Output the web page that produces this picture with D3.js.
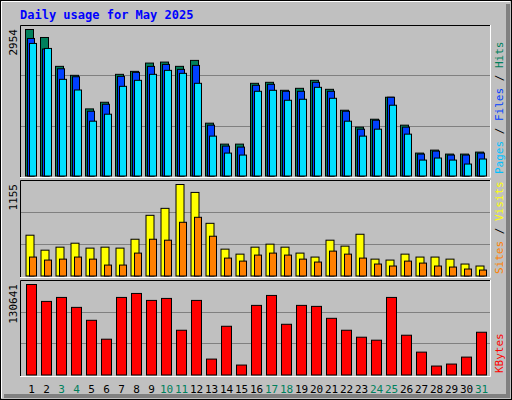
<!DOCTYPE html>
<html><head><meta charset="utf-8">
<script src="https://cdn.jsdelivr.net/npm/d3@7"></script>
<style>body{margin:0;background:#fff}</style>
</head><body>
<div id="chart"></div>
<script>
const days = d3.range(1, 32);
const weekend = [3, 4, 10, 11, 17, 18, 24, 25, 31];
const hits = [2954,2793,2211,2030,1353,1487,2050,2110,2277,2297,2211,2331,1065,643,643,1869,1889,1728,1768,1929,1748,1326,985,1145,1588,1025,462,522,442,442,482];
const files = [2773,2560,2162,2001,1306,1447,2009,2090,2210,2250,2150,2230,1025,603,583,1829,1849,1708,1708,1889,1708,1306,944,1125,1588,985,442,502,422,422,462];
const pages = [2673,2572,1949,1734,1105,1246,1808,1929,2050,2130,2070,1869,804,462,422,1708,1728,1527,1547,1788,1567,1105,804,944,1427,844,321,362,321,241,342];
const sites = [515,326,364,414,352,364,352,464,766,854,1155,1055,665,339,276,364,402,364,289,239,452,377,527,213,201,276,239,239,213,151,126];
const visits = [239,201,213,239,213,138,138,289,464,452,678,741,502,226,188,264,289,264,213,176,314,276,226,151,126,188,163,126,113,88,75];
const kbytes = [130641,106236,111978,97622,78959,51683,111978,117721,107671,110542,64603,107671,22970,70345,14356,100493,114849,73216,100493,99057,81830,64603,54554,50247,111978,57425,33019,12921,15792,25841,61731];

const W = 512, H = 400, mono = "'DejaVu Sans Mono', monospace";
const svg = d3.select('#chart').append('svg').attr('width', W).attr('height', H);

// outer frame
svg.append('rect').attr('x', 0).attr('y', 0).attr('width', W).attr('height', H).attr('fill', '#c0c0c0');
svg.append('rect').attr('x', 0.5).attr('y', 0.5).attr('width', W - 1).attr('height', H - 1).attr('fill', 'none').attr('stroke', '#000');
svg.append('path').attr('d', `M1.5,${H-2}V1.5H${W-2}`).attr('fill', 'none').attr('stroke', '#fff');
svg.append('path').attr('d', `M${W-4},4V${H-4}H4`).attr('fill', 'none').attr('stroke', '#808080').attr('stroke-width', 4);

svg.append('text').attr('x', 20).attr('y', 19).attr('fill', '#0000ff')
  .style('font', `bold 12px ${mono}`).text('Daily usage for May 2025');

const x = d3.scaleBand().domain(days).range([22, 487]);

function panel(top, bottom, maxVal, series, legend) {
  svg.append('rect').attr('x', 20).attr('y', top).attr('width', 470).attr('height', bottom - top + 1).attr('fill', '#c0c0c0');
  svg.append('path').attr('d', `M20.5,${bottom+1}V${top+0.5}H490`).attr('fill', 'none').attr('stroke', '#000');
  svg.append('path').attr('d', `M20,${bottom+1.5}H490.5V${top}`).attr('fill', 'none').attr('stroke', '#fff');
  const base = bottom - 0.5;
  const y = d3.scaleLinear().domain([0, maxVal]).range([base, top + 4]);
  const h = bottom - top;
  [1 / 3, 2 / 3].forEach(f => {
    const gy = Math.round(bottom - h * f) + 0.5;
    svg.append('line').attr('x1', 21).attr('x2', 490).attr('y1', gy).attr('y2', gy).attr('stroke', '#808080');
  });
  series.forEach(s => {
    svg.append('g').selectAll('rect').data(s.data).join('rect')
      .attr('x', (d, i) => x(days[i]) + s.off + 0.5)
      .attr('y', d => y(d) + 0.5)
      .attr('width', s.w)
      .attr('height', d => base - y(d))
      .attr('fill', s.color).attr('stroke', '#000');
  });
  svg.append('text').attr('transform', `translate(17,${top + 4}) rotate(-90)`).attr('text-anchor', 'end')
    .style('font', `11px ${mono}`).text(maxVal);
  const lt = svg.append('text').attr('transform', `translate(503,${bottom - 2}) rotate(-90)`)
    .style('font', `11px ${mono}`);
  legend.forEach(l => lt.append('tspan').attr('fill', l[1]).text(l[0]));
}

panel(25, 176, 2954, [
  { data: hits, color: '#00805c', off: 3, w: 8 },
  { data: files, color: '#0040ff', off: 5, w: 7 },
  { data: pages, color: '#00e0ff', off: 7, w: 7 }
], [['Pages', '#00c0ff'], [' / ', '#000'], ['Files', '#0040ff'], [' / ', '#000'], ['Hits', '#00805c']]);

panel(180, 276, 1155, [
  { data: sites, color: '#ffff00', off: 3.5, w: 8 },
  { data: visits, color: '#ff8000', off: 7, w: 7 }
], [['Sites', '#ff8000'], [' / ', '#000'], ['Visits', '#ffff00']]);

panel(280, 375, 130641, [
  { data: kbytes, color: '#ff0000', off: 4, w: 10 }
], [['KBytes', '#ff0000']]);

svg.append('g').selectAll('text').data(days).join('text')
  .attr('x', d => x(d) + 9.5).attr('y', 393).attr('text-anchor', 'middle')
  .attr('fill', d => weekend.includes(d) ? '#00805c' : '#000')
  .style('font', `11px ${mono}`).text(d => d);
</script>
</body></html>
